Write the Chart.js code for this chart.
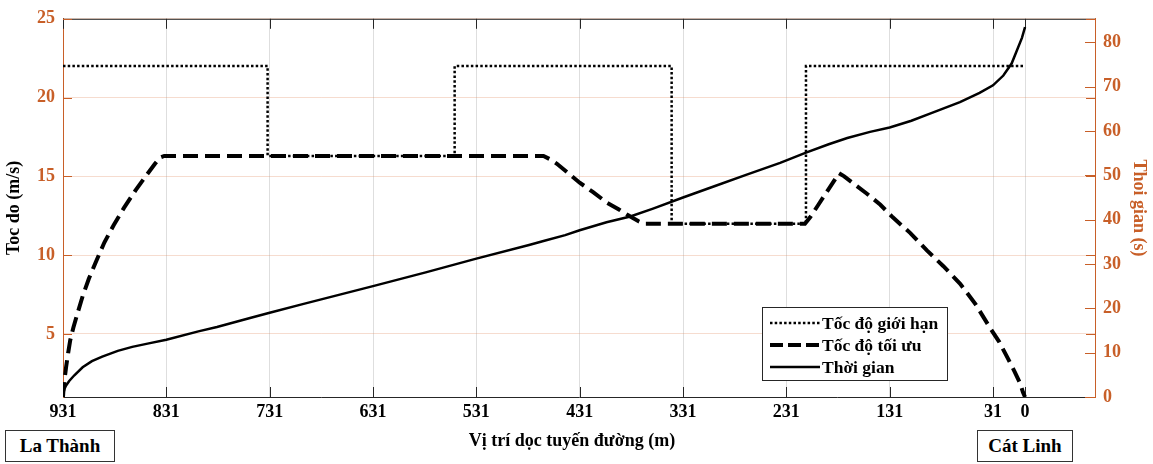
<!DOCTYPE html>
<html><head><meta charset="utf-8">
<script src="https://cdn.jsdelivr.net/npm/chart.js@4/dist/chart.umd.min.js"></script>
<style>
html,body{margin:0;padding:0;background:#fff;}
#wrap{position:relative;width:1153px;height:464px;}
canvas{position:absolute;left:0;top:0;}
.station{position:absolute;border:1px solid #333;font:bold 19px "Liberation Serif",serif;display:flex;align-items:center;justify-content:center;background:#fff;box-sizing:border-box;color:#000;}
</style></head><body>
<div id="wrap"><canvas id="c" width="1153" height="464"></canvas>
<div class="station" style="left:5px;top:430px;width:110px;height:32px">La Thành</div>
<div class="station" style="left:977px;top:430px;width:96px;height:32px">Cát Linh</div>
</div>
<script>
// ---- data ----
const xTicks = [931,831,731,631,531,431,331,231,131,31,0];
const speedTicks = [5,10,15,20,25];
const timeTicks = [0,10,20,30,40,50,60,70,80];

const limitPos = [931,733,733,552,552,342,342,212,212,1];
const limitVal = [22,22,16.3,16.3,22,22,12,12,22,22];

const optPos = [931,930.5,929.5,928,926,924,921,917,912,906,899,891,882,872,861,850,842,837,833,
  466,460,453,442,431,418,405,393,382,374,369,
  213,208,200,192,185,180,
  175,166,153,140,128,111,95,79,63,48,34,25,17,10,5,2,0];
const optVal = [1.0,1.5,2.1,2.9,3.8,4.6,5.4,6.3,7.4,8.5,9.6,10.8,11.9,13.0,14.1,15.1,15.8,16.2,16.3,
  16.3,16.1,15.8,15.2,14.6,14.0,13.35,12.9,12.45,12.15,12.0,
  12.0,12.4,13.2,14.0,14.7,15.2,
  15.0,14.55,13.9,13.2,12.4,11.4,10.3,9.3,8.2,6.9,5.4,4.5,3.5,2.6,1.9,1.3,1.0];

const timePos = [931,930.5,929.5,928,925,920,912,903,893,878,864,848,831,800,782,750,731,700,631,580,531,480,
  466,445,431,405,382,360,331,300,270,237,212,190,172,150,131,110,92,63,44,31,21,13,8,3,0];
const timeVal = [0,1.0,1.9,2.6,3.6,4.9,6.7,8.1,9.1,10.4,11.3,12.1,12.9,14.8,15.8,17.8,19.0,20.9,25.0,28.1,31.2,34.3,
  35.2,36.5,37.6,39.4,40.7,42.5,45.0,47.6,50.1,52.8,55.1,57.0,58.4,59.8,60.8,62.3,63.9,66.5,68.6,70.3,72.5,75.2,78.1,81.0,83.4];

const xTitle = 'Vị trí dọc tuyến đường (m)';
const orange = 'rgb(200,95,40)';
const FONT = '"Liberation Serif", "Times New Roman", serif';
const pts = (xs, ys) => xs.map((v,i)=>({x:v, y:ys[i]}));

function line(ctx,x1,y1,x2,y2){ctx.beginPath();ctx.moveTo(x1,y1);ctx.lineTo(x2,y2);ctx.stroke();}

const decor = {
  id:'decor',
  beforeDatasetsDraw(chart){
    const {ctx, chartArea:{left,right,top,bottom}, scales:{x,y,y1}} = chart;
    ctx.save();
    ctx.lineWidth = 1;
    ctx.strokeStyle = '#262626';
    line(ctx,left,top+0.5,right,top+0.5);
    xTicks.forEach(v=>{
      const px = Math.round(x.getPixelForValue(v))+0.5;
      line(ctx,px,bottom,px,bottom-10);
      line(ctx,px,top,px,top+10);
    });
    ctx.strokeStyle = orange;
    speedTicks.forEach(v=>{
      const py = Math.round(y.getPixelForValue(v))+0.5;
      line(ctx,left,py,left+9,py);
      line(ctx,right,py,right-9,py);
    });
    timeTicks.forEach(v=>{
      const py = Math.round(y1.getPixelForValue(v))+0.5;
      line(ctx,right,py,right-10,py);
    });
    ctx.restore();
  },
  afterDraw(chart){
    const ctx = chart.ctx;
    ctx.save();
    // x-axis title
    ctx.fillStyle='#000'; ctx.font='bold 18px '+FONT; ctx.textAlign='center'; ctx.textBaseline='middle';
    ctx.fillText(xTitle, 572, 441);
    // legend
    const bx=762.5, by=307.5, bw=185, bh=73;
    ctx.fillStyle='#fff'; ctx.fillRect(bx,by,bw,bh);
    ctx.strokeStyle='#262626'; ctx.lineWidth=1; ctx.strokeRect(bx,by,bw,bh);
    const items = [
      {t:'Tốc độ giới hạn', w:2.5, d:[2.5,2.2]},
      {t:'Tốc độ tối ưu', w:4, d:[13,5]},
      {t:'Thời gian', w:2.5, d:[]}
    ];
    const rows=[323,345,367];
    items.forEach((it,i)=>{
      ctx.strokeStyle='#000'; ctx.lineWidth=it.w; ctx.setLineDash(it.d);
      line(ctx,770,rows[i],820,rows[i]);
      ctx.setLineDash([]);
      ctx.fillStyle='#000'; ctx.font='bold 17.5px '+FONT; ctx.textBaseline='middle'; ctx.textAlign='left';
      ctx.fillText(it.t,822,rows[i]+1);
    });
    ctx.restore();
  }
};

new Chart(document.getElementById('c'), {
  type:'line',
  data:{datasets:[
    {label:'Tốc độ giới hạn', data:pts(limitPos,limitVal), yAxisID:'y', borderColor:'#000', borderWidth:2.5, borderDash:[2.5,2.2], pointRadius:0, fill:false},
    {label:'Tốc độ tối ưu', data:pts(optPos,optVal), yAxisID:'y', borderColor:'#000', borderWidth:4, borderDash:[15,7], pointRadius:0, fill:false},
    {label:'Thời gian', data:pts(timePos,timeVal), yAxisID:'y1', borderColor:'#000', borderWidth:2.5, pointRadius:0, fill:false}
  ]},
  options:{
    responsive:false, animation:false, devicePixelRatio:1,
    layout:{padding:{top:18,left:0,right:0,bottom:0}},
    plugins:{legend:{display:false}, tooltip:{enabled:false}},
    scales:{
      x:{type:'linear', reverse:true, min:-67.7, max:931,
        afterBuildTicks:s=>{s.ticks = xTicks.map(v=>({value:v}));},
        afterFit:s=>{s.height=67;},
        grid:{color:'rgb(222,222,222)', drawTicks:false, lineWidth:1},
        border:{color:'#262626', width:1},
        ticks:{color:'#000', font:{family:FONT, size:18, weight:'bold'}, padding:5, autoSkip:false, maxRotation:0, callback:v=>String(v)},
        title:{display:false}
      },
      y:{type:'linear', position:'left', min:1, max:25,
        afterBuildTicks:s=>{s.ticks = speedTicks.map(v=>({value:v}));},
        afterFit:s=>{s.width=63;},
        grid:{color:'rgba(225,140,95,0.3)', drawTicks:false},
        border:{color:orange, width:1},
        ticks:{color:orange, font:{family:FONT,size:18,weight:'bold'}, padding:8},
        title:{display:true, text:'Toc do (m/s)', color:'#000', font:{family:FONT,size:18,weight:'bold'}, padding:{top:4,bottom:0}}
      },
      y1:{type:'linear', position:'right', min:0, max:85.3,
        afterBuildTicks:s=>{s.ticks = timeTicks.map(v=>({value:v}));},
        afterFit:s=>{s.width=58;},
        grid:{display:false, drawOnChartArea:false, drawTicks:false},
        border:{color:orange, width:1},
        ticks:{color:orange, font:{family:FONT,size:18,weight:'bold'}, padding:8},
        title:{display:true, text:'Thoi gian (s)', color:orange, font:{family:FONT,size:18,weight:'bold'}, padding:{top:4,bottom:0}}
      }
    }
  },
  plugins:[decor]
});
</script>
</body></html>
